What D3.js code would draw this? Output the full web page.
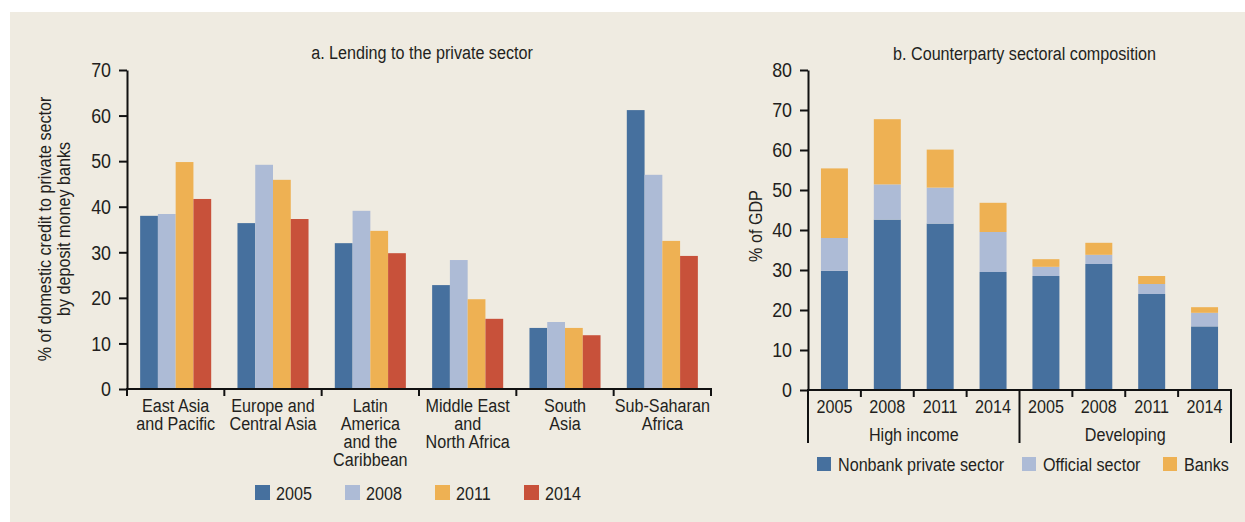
<!DOCTYPE html>
<html>
<head>
<meta charset="utf-8">
<script src="https://cdn.jsdelivr.net/npm/d3@7"></script>
<style>
  body { margin: 0; background: #fff; }
  svg text { font-family: "Liberation Sans", Arial, sans-serif; font-size: 19px; fill: #231f20; }
  .axis path, .axis line { stroke: #111; stroke-width: 2; }
  .axis text { font-size: 21px; }
</style>
</head>
<body>
<svg id="chart" width="1245" height="522"></svg>
<script>
// panel a data
var regions = ["East Asia|and Pacific", "Europe and|Central Asia", "Latin|America|and the|Caribbean",
               "Middle East|and|North Africa", "South|Asia", "Sub-Saharan|Africa"];
var years = ["2005", "2008", "2011", "2014"];
var v2005 = [38.0, 36.4, 32.0, 22.8, 13.4, 61.2];
var v2008 = [38.4, 49.2, 39.1, 28.3, 14.7, 47.0];
var v2011 = [49.8, 45.9, 34.7, 19.7, 13.4, 32.5];
var v2014 = [41.7, 37.3, 29.8, 15.4, 11.8, 29.2];
var yTicksA = [0, 10, 20, 30, 40, 50, 60, 70];

// panel b data
var groups = ["High income", "Developing"];
var periods = ["2005", "2008", "2011", "2014"];
var nonbank  = [29.8, 42.6, 41.6, 29.5, 28.5, 31.5, 24.0, 15.9];
var official = [8.2, 8.8, 9.0, 10.0, 2.3, 2.3, 2.5, 3.4];
var banks    = [17.4, 16.3, 9.5, 7.3, 1.9, 3.0, 2.0, 1.4];
var sectors = ["Nonbank private sector", "Official sector", "Banks"];
var yTicksB = [0, 10, 20, 30, 40, 50, 60, 70, 80];

var colors = ["#46709e", "#adbbd6", "#eeb153", "#c8513a"];
var narrow = 0.85;   // fake a condensed face

function label(g, x, y, str, anchor, rot) {
    return g.append("text")
        .attr("text-anchor", anchor || "start")
        .attr("transform", "translate(" + x + "," + y + ")" + (rot ? " rotate(" + rot + ")" : "") + " scale(" + narrow + ",1)")
        .text(str);
}

function squeezeTicks(axisG, shift) {
    axisG.selectAll("text")
        .attr("x", null)
        .attr("transform", "translate(" + shift + ",0) scale(" + narrow + ",1)");
}

var svg = d3.select("#chart");
svg.append("rect").attr("x", 10).attr("y", 12).attr("width", 1235).attr("height", 510).attr("fill", "#efebe1");

// ---------- panel a ----------
var xa = d3.scaleBand().domain(d3.range(regions.length)).range([127, 711]);
var xa1 = d3.scaleBand().domain(years).range([0, xa.bandwidth()]).paddingOuter(0.74);
var ya = d3.scaleLinear().domain([0, 70]).range([389, 70]);

var seriesA = [v2005, v2008, v2011, v2014];
var ga = svg.append("g");

seriesA.forEach(function(vals, j) {
    ga.selectAll(".bar" + j)
        .data(vals)
        .enter().append("rect")
        .attr("x", function(d, i) { return xa(i) + xa1(years[j]); })
        .attr("width", xa1.bandwidth())
        .attr("y", function(d) { return ya(d); })
        .attr("height", function(d) { return ya(0) - ya(d); })
        .attr("fill", colors[j]);
});

var axA = ga.append("g")
    .attr("class", "axis")
    .attr("transform", "translate(127,0)")
    .call(d3.axisLeft(ya).tickValues(yTicksA).tickSize(8).tickSizeOuter(0));
squeezeTicks(axA, -16);

// x axis line + boundary ticks
ga.append("line")
    .attr("x1", 126).attr("x2", 712).attr("y1", ya(0)).attr("y2", ya(0))
    .attr("stroke", "#111").attr("stroke-width", 2);
d3.range(regions.length + 1).forEach(function(i) {
    var x = 127 + i * xa.step();
    ga.append("line").attr("x1", x).attr("x2", x).attr("y1", ya(0)).attr("y2", ya(0) + 7)
        .attr("stroke", "#111").attr("stroke-width", 2);
});

regions.forEach(function(r, i) {
    var t = label(ga, xa(i) + xa.bandwidth() / 2, 411.5, null, "middle");
    r.split("|").forEach(function(line, k) {
        t.append("tspan").attr("x", 0).attr("y", k * 18.3).text(line);
    });
});

label(ga, 422, 59, "a. Lending to the private sector", "middle");

var yt = label(ga, 51, 229, null, "middle", -90);
yt.append("tspan").attr("x", 0).attr("y", 0).text("% of domestic credit to private sector");
yt.append("tspan").attr("x", 0).attr("y", 19.5).text("by deposit money banks");

var legA = [255, 345, 435, 524];
years.forEach(function(y, j) {
    ga.append("rect").attr("x", legA[j]).attr("y", 485).attr("width", 15).attr("height", 15).attr("fill", colors[j]);
    label(ga, legA[j] + 21, 499.5, y);
});

// ---------- panel b ----------
var keys = [];
groups.forEach(function(g) { periods.forEach(function(p) { keys.push(g + " " + p); }); });
var tableB = keys.map(function(k, i) {
    return { key: k, period: periods[i % 4], nonbank: nonbank[i], official: official[i], banks: banks[i] };
});
var stack = d3.stack().keys(["nonbank", "official", "banks"])(tableB);

var xb = d3.scaleBand().domain(keys).range([808, 1231]).paddingInner(0.49).paddingOuter(0.245);
var yb = d3.scaleLinear().domain([0, 80]).range([390, 70]);
var gb = svg.append("g");

stack.forEach(function(layer, j) {
    gb.selectAll(".layer" + j)
        .data(layer)
        .enter().append("rect")
        .attr("x", function(d) { return xb(d.data.key); })
        .attr("width", xb.bandwidth())
        .attr("y", function(d) { return yb(d[1]); })
        .attr("height", function(d) { return yb(d[0]) - yb(d[1]); })
        .attr("fill", colors[j]);
});

var axB = gb.append("g")
    .attr("class", "axis")
    .attr("transform", "translate(808,0)")
    .call(d3.axisLeft(yb).tickValues(yTicksB).tickSize(8).tickSizeOuter(0));
squeezeTicks(axB, -16);

gb.append("line")
    .attr("x1", 807).attr("x2", 1232).attr("y1", yb(0)).attr("y2", yb(0))
    .attr("stroke", "#111").attr("stroke-width", 2);
d3.range(keys.length + 1).forEach(function(i) {
    var x = 808 + i * xb.step();
    var long = (i % 4 === 0);
    gb.append("line").attr("x1", x).attr("x2", x).attr("y1", yb(0)).attr("y2", long ? 443 : yb(0) + 7)
        .attr("stroke", "#111").attr("stroke-width", 2);
});

tableB.forEach(function(d) {
    label(gb, xb(d.key) + xb.bandwidth() / 2, 412.5, d.period, "middle");
});
groups.forEach(function(g, k) {
    label(gb, 808 + (k * 4 + 2) * xb.step(), 441, g, "middle");
});

label(gb, 1024.5, 60, "b. Counterparty sectoral composition", "middle");
label(gb, 762, 226, "% of GDP", "middle", -90);

var legB = [817, 1022, 1163];
sectors.forEach(function(s, j) {
    gb.append("rect").attr("x", legB[j]).attr("y", 457).attr("width", 14).attr("height", 14).attr("fill", colors[j]);
    label(gb, legB[j] + 21, 471, s);
});
</script>
</body>
</html>
